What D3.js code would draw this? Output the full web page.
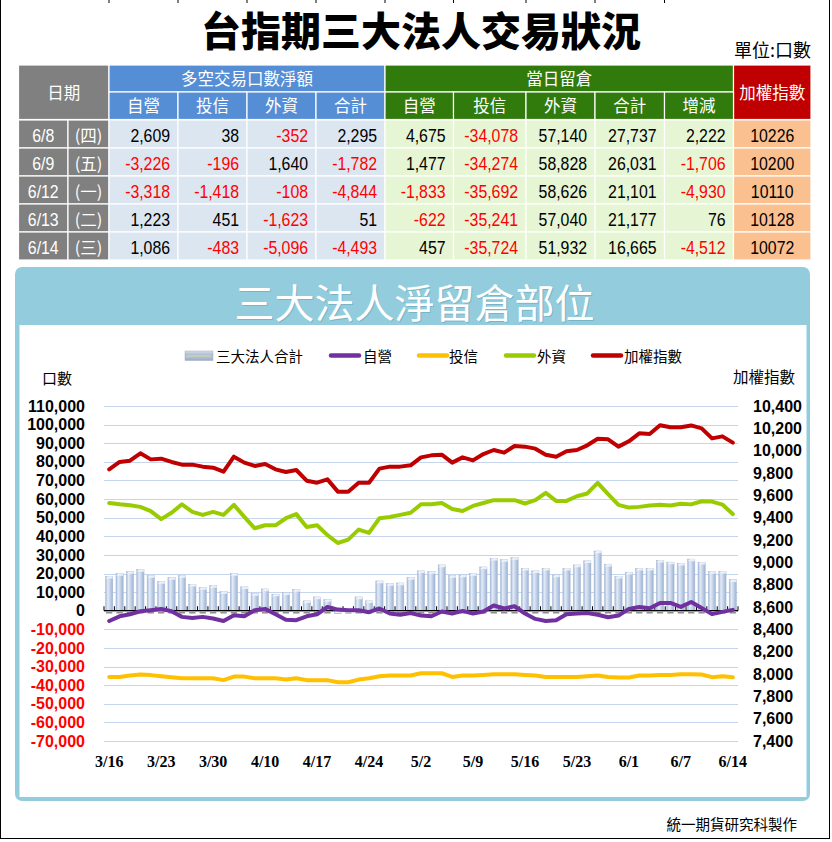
<!DOCTYPE html>
<html><head><meta charset="utf-8">
<script src="https://cdn.jsdelivr.net/npm/d3@7"></script>
<style>
html,body{margin:0;padding:0;background:#fff;}
svg{display:block;}
</style></head><body>
<svg id="c" width="832" height="842"></svg>
<script>
// ---------------- DATA ----------------
const dates = ["3/16","3/17","3/20","3/21","3/22","3/23","3/24","3/27","3/28","3/29",
  "3/30","3/31","4/5","4/6","4/7","4/10","4/11","4/12","4/13","4/14",
  "4/17","4/18","4/19","4/20","4/21","4/24","4/25","4/26","4/27","4/28",
  "5/2","5/3","5/4","5/5","5/8","5/9","5/10","5/11","5/12","5/15",
  "5/16","5/17","5/18","5/19","5/22","5/23","5/24","5/25","5/26","5/31",
  "6/1","6/2","6/3","6/5","6/6","6/7","6/8","6/9","6/12","6/13","6/14"];
const xTickIdx = [0,5,10,15,20,25,30,35,40,45,50,55,60];

// 三大法人合計 (bars, left axis)
const totalOI = [18500,20000,21000,22100,18900,15700,17800,18900,14200,12500,
  13500,10300,20000,12800,9200,11700,8900,9600,11400,5300,
  7400,6000,-1400,100,7400,5300,16000,14600,14900,17800,
  21400,21000,24600,18900,19200,20000,23500,28200,27500,28600,
  22800,21400,22800,19200,22800,24600,26800,32100,25000,18500,
  20700,22800,22800,27100,26100,25515,27737,26031,21101,21177,16665];
// 自營
const dealerOI = [-5500,-3000,-1900,-300,300,1000,-300,-3300,-3900,-3300,
  -4200,-5500,-2400,-3000,300,1000,-1900,-4800,-5100,-3000,
  -1900,2000,600,300,300,-800,1200,-1500,-2200,-1200,
  -2600,-3000,-400,-1500,-100,-1500,-400,2800,1200,2400,
  -1500,-4400,-5500,-5100,-1900,-1500,-1200,-2200,-3500,-2600,
  1000,2000,1300,4200,4200,2066,4675,1477,-1833,-622,457];
// 投信
const trustOI = [-35600,-35600,-34800,-34300,-34600,-35200,-35700,-36300,-36300,-36300,
  -36300,-37300,-35400,-35400,-36300,-36300,-36300,-37000,-36300,-37300,
  -37300,-37300,-38400,-38400,-37000,-36300,-35200,-34800,-34800,-34800,
  -33600,-33600,-33600,-35600,-34800,-34800,-34500,-34100,-34100,-34100,
  -34500,-34800,-35600,-35600,-35600,-35600,-35200,-34800,-35600,-35900,
  -35900,-34800,-34800,-34500,-34500,-34116,-34078,-34274,-35692,-35241,-35724];
// 外資
const foreignOI = [57900,57200,56700,55800,53500,49200,52600,57200,53100,51500,
  53100,51500,56900,50400,44300,45900,45900,49700,51900,45000,
  45900,40600,36400,38200,43600,41800,49700,50400,51500,52600,
  57200,57200,57900,54700,53600,56300,57900,59400,59400,59400,
  57600,59400,63300,59000,59000,61500,63000,68700,62600,56900,
  55400,55800,56500,56900,56500,57492,57140,58828,58626,57040,51932];
// 加權指數 (right axis)
const taiexSeries = [9833,9899,9910,9976,9922,9928,9899,9875,9875,9857,
  9848,9812,9946,9893,9863,9881,9833,9809,9827,9731,
  9713,9743,9633,9633,9713,9713,9839,9857,9857,9869,
  9940,9958,9964,9893,9940,9913,9970,10006,9982,10042,
  10036,10018,9964,9946,9994,10006,10048,10107,10102,10036,
  10084,10155,10149,10227,10209,10209,10226,10200,10110,10128,10072];

const leftTicks = [110000,100000,90000,80000,70000,60000,50000,40000,30000,20000,10000,0,
  -10000,-20000,-30000,-40000,-50000,-60000,-70000];
const rightTicks = [10400,10200,10000,9800,9600,9400,9200,9000,8800,8600,8400,8200,8000,7800,7600,7400];

// table
const tblDates = ["6/8","6/9","6/12","6/13","6/14"];
const tblWeekdays = ["(四)","(五)","(一)","(二)","(三)"];
const netDealer = [2609,-3226,-3318,1223,1086];
const netTrust = [38,-196,-1418,451,-483];
const netForeign = [-352,1640,-108,-1623,-5096];
const netTotal = [2295,-1782,-4844,51,-4493];
const oiDealer = [4675,1477,-1833,-622,457];
const oiTrust = [-34078,-34274,-35692,-35241,-35724];
const oiForeign = [57140,58828,58626,57040,51932];
const oiTotal = [27737,26031,21101,21177,16665];
const oiChange = [2222,-1706,-4930,76,-4512];
const tblTaiex = [10226,10200,10110,10128,10072];

const seriesNames = ["三大法人合計","自營","投信","外資","加權指數"];
const seriesColors = ["#b7c7e0","#7030A0","#FFC000","#99CC00","#C00000"];

// ---------------- DRAW ----------------
const CJK = "'Noto Sans CJK TC','Noto Sans CJK SC','Noto Sans CJK JP',sans-serif";
const SANS = "'Liberation Sans',Arial,'DejaVu Sans',sans-serif";
const SERIF = "'Liberation Serif','Times New Roman',serif";
const svg = d3.select("#c");
const locale = d3.formatLocale({decimal:".", thousands:",", grouping:[3], currency:["",""], minus:"-"});
const fmt = locale.format(",");

// outer frame
svg.append("rect").attr("x",0.5).attr("y",-2).attr("width",829).attr("height",840.5)
  .attr("fill","none").attr("stroke","#000").attr("stroke-width",1);
[109,178,247,316,385,453.5,526,595,664.5].forEach(px=>{
  svg.append("line").attr("x1",px).attr("x2",px).attr("y1",0).attr("y2",3).attr("stroke","#000");
});

// title
svg.append("text").attr("x",421).attr("y",46).attr("text-anchor","middle")
  .style("font-family",CJK).style("font-weight",900).style("font-size","40px").attr("fill","#000")
  .text("台指期三大法人交易狀況");
svg.append("text").attr("x",811).attr("y",57).attr("text-anchor","end")
  .style("font-family",CJK).style("font-size","18px").attr("fill","#000").text("單位:口數");

// ---- table ----
const colX = [18.5,68,109,178,247,316,385,453.5,526,595,664.5,733.5,811];
const hTop = 65, hMid = 92, hBot = 119.5, rowH = 28, rowTop = 120;
const gray="#808080", blue="#558ED5", green="#317B0C", red="#C00000";
const blueCell="#DCE6F1", greenCell="#E6F5D3", idxCell="#FAC090";
const tbl = svg.append("g");
function cell(x0,x1,y0,y1,fill){
  tbl.append("rect").attr("x",x0).attr("y",y0).attr("width",x1-x0).attr("height",y1-y0)
    .attr("fill",fill).attr("stroke","#fff").attr("stroke-width",1.2);
}
function htext(txt,cx,by,size){
  tbl.append("text").attr("x",cx).attr("y",by).attr("text-anchor","middle")
    .style("font-family",CJK).style("font-size",(size||16.5)+"px").attr("fill","#fff").text(txt);
}
cell(colX[0],colX[2],hTop,hBot,gray); htext("日期",(colX[0]+colX[2])/2,98.5,16.5);
cell(colX[2],colX[6],hTop,hMid,blue); htext("多空交易口數淨額",(colX[2]+colX[6])/2,84.5);
cell(colX[6],colX[11],hTop,hMid,green); htext("當日留倉",(colX[6]+colX[11])/2,84.5);
cell(colX[11],colX[12],hTop,hBot,red); htext("加權指數",(colX[11]+colX[12])/2,98.5);
const subHeads = ["自營","投信","外資","合計","自營","投信","外資","合計","增減"];
subHeads.forEach((s,k)=>{
  const x0=colX[2+k], x1=colX[3+k];
  cell(x0,x1,hMid,hBot,k<4?blue:green);
  htext(s,(x0+x1)/2,112);
});
const rowsData = [netDealer,netTrust,netForeign,netTotal,oiDealer,oiTrust,oiForeign,oiTotal,oiChange];
function ntext(v,x,by,anchor,color,wrap){
  tbl.append("text").attr("transform",`translate(${x},${by}) scale(0.88,1)`)
    .attr("text-anchor",anchor).style("font-family",SANS).style("font-size","18px")
    .attr("fill",color).text(wrap?wrap(v):v);
}
tblDates.forEach((d,r)=>{
  const y0 = rowTop + r*rowH, y1 = y0 + rowH, by = y0 + 21.5;
  cell(colX[0],colX[1],y0,y1,gray);
  ntext(d,(colX[0]+colX[1])/2,by,"middle","#fff");
  cell(colX[1],colX[2],y0,y1,gray);
  tbl.append("text").attr("x",(colX[1]+colX[2])/2).attr("y",by).attr("text-anchor","middle")
    .style("font-family",CJK).style("font-size","16.5px").attr("fill","#fff").text(tblWeekdays[r]);
  rowsData.forEach((arr,k)=>{
    const x0=colX[2+k], x1=colX[3+k];
    cell(x0,x1,y0,y1,k<4?blueCell:greenCell);
    const v = arr[r];
    ntext(v,x1-8,by,"end",v<0?"#FF0000":"#000",fmt);
  });
  cell(colX[11],colX[12],y0,y1,idxCell);
  ntext(tblTaiex[r],(colX[11]+colX[12])/2,by,"middle","#000");
});

// ---- chart panel ----
svg.append("rect").attr("x",15).attr("y",267).attr("width",795).attr("height",534).attr("rx",7)
  .attr("fill","#93CDDD");
svg.append("rect").attr("x",19.5).attr("y",325).attr("width",787).attr("height",472).attr("fill","#fff");
svg.append("text").attr("x",415.5).attr("y",319).attr("text-anchor","middle")
  .style("font-family",CJK).style("font-size","40px").attr("fill","#6aa6b8").attr("opacity",0.6)
  .text("三大法人淨留倉部位");
svg.append("text").attr("x",414.5).attr("y",318).attr("text-anchor","middle")
  .style("font-family",CJK).style("font-size","40px").attr("fill","#fff")
  .text("三大法人淨留倉部位");

const defs = svg.append("defs");
const g1 = defs.append("linearGradient").attr("id","barG").attr("x1","0").attr("x2","1").attr("y1","0").attr("y2","0");
[["0%","#9fb4d4"],["30%","#e3ebf7"],["55%","#cad8ee"],["100%","#9cb1d1"]].forEach(s=>
  g1.append("stop").attr("offset",s[0]).attr("stop-color",s[1]));
const g2 = defs.append("linearGradient").attr("id","legG").attr("x1","0").attr("x2","0").attr("y1","0").attr("y2","1");
[["0%","#d5deec"],["45%","#a9b8cf"],["55%","#b8c6dc"],["100%","#9aaac4"]].forEach(s=>
  g2.append("stop").attr("offset",s[0]).attr("stop-color",s[1]));

const PL = 104, PR = 738, PT = 406, PB = 741;
const x = d3.scaleBand().domain(d3.range(dates.length)).range([PL,PR]).paddingInner(0.3).paddingOuter(0.15);
const yL = d3.scaleLinear().domain([-70000,110000]).range([PB,PT]);
const yR = d3.scaleLinear().domain([7400,10400]).range([PB,PT]);
const bw = x.bandwidth();
const cx = i => x(i) + bw/2;

// gridlines
svg.append("g").selectAll("line").data(leftTicks).join("line")
  .attr("x1",PL).attr("x2",PR).attr("y1",d=>Math.round(yL(d))+0.5).attr("y2",d=>Math.round(yL(d))+0.5)
  .attr("stroke","#c6d5ee").attr("stroke-width",1);

// left axis
const axL = svg.append("g").attr("transform",`translate(${PL},0)`)
  .call(d3.axisLeft(yL).tickValues(leftTicks).tickFormat(fmt).tickSize(0).tickPadding(19));
axL.select(".domain").remove();
axL.selectAll("text").style("font-family",SANS).style("font-weight","bold").style("font-size","16px")
  .attr("fill",d=>d<0?"#FF0000":"#000");
// right axis
const axR = svg.append("g").attr("transform",`translate(${PR},0)`)
  .call(d3.axisRight(yR).tickValues(rightTicks).tickFormat(fmt).tickSize(0).tickPadding(15));
axR.select(".domain").remove();
axR.selectAll("text").style("font-family",SANS).style("font-weight","bold").style("font-size","16px").attr("fill","#000");
// bottom axis labels
const axB = svg.append("g").attr("transform",`translate(0,${PB})`)
  .call(d3.axisBottom(x).tickValues(xTickIdx).tickFormat(i=>dates[i]).tickSize(0).tickPadding(14.5));
axB.select(".domain").remove();
axB.selectAll("text").style("font-family",SERIF).style("font-weight","bold").style("font-size","16px").attr("fill","#000");

// axis titles
svg.append("text").attr("x",42).attr("y",384).style("font-family",CJK).style("font-size","15px").attr("fill","#000").text("口數");
svg.append("text").attr("x",795).attr("y",383).attr("text-anchor","end").style("font-family",CJK).style("font-size","15.5px").attr("fill","#000").text("加權指數");

// bars
const y0 = yL(0);
const bars = svg.append("g");
totalOI.forEach((v,i)=>{
  bars.append("rect").attr("x",x(i)+0.5).attr("width",bw-1).attr("y",y0+1.3).attr("height",1.5).attr("fill","#8f8f8f");
});
bars.selectAll("rect.b").data(totalOI).join("rect").attr("class","b")
  .attr("x",(d,i)=>x(i)).attr("width",bw)
  .attr("y",d=>Math.min(yL(d),y0)).attr("height",d=>Math.abs(yL(d)-y0))
  .attr("fill","url(#barG)").attr("stroke","#a9bbd6").attr("stroke-width",0.5);
bars.selectAll("path.cap").data(totalOI).join("path").attr("class","cap")
  .attr("d",(d,i)=>{const t=Math.min(yL(d),y0), l=x(i), r=x(i)+bw;
     return `M${l},${t+2.2}L${l+bw*0.35},${t}L${r},${t}L${r},${t+2.2}Z`;})
  .attr("fill","#eef3fb").attr("opacity",0.9);

// zero axis with ticks
svg.append("line").attr("x1",PL).attr("x2",PR).attr("y1",y0).attr("y2",y0).attr("stroke","#000").attr("stroke-width",1.3);
const step = x.step();
svg.append("g").selectAll("line").data(d3.range(dates.length+1)).join("line")
  .attr("x1",k=>PL+k*step).attr("x2",k=>PL+k*step).attr("y1",y0-4.5).attr("y2",y0)
  .attr("stroke","#000").attr("stroke-width",1);

// lines
function drawLine(arr,scale,color){
  svg.append("path").datum(arr)
    .attr("d",d3.line().x((d,i)=>cx(i)).y(d=>scale(d)))
    .attr("fill","none").attr("stroke",color).attr("stroke-width",4)
    .attr("stroke-linejoin","round").attr("stroke-linecap","round");
}
drawLine(dealerOI,yL,seriesColors[1]);
drawLine(trustOI,yL,seriesColors[2]);
drawLine(foreignOI,yL,seriesColors[3]);
drawLine(taiexSeries,yR,seriesColors[4]);

// legend
const lg = svg.append("g");
const legY = 355.5, legBase = 362;
lg.append("rect").attr("x",185).attr("y",351).attr("width",28).attr("height",9.5).attr("fill","url(#legG)").attr("stroke","#a0afc6").attr("stroke-width",0.5);
lg.append("line").attr("x1",187).attr("x2",211).attr("y1",355.8).attr("y2",355.8).attr("stroke","#c8e07a").attr("stroke-width",1.2);
const legItems = [
  {name:seriesNames[0], tx:216},
  {name:seriesNames[1], lx:[331,359], tx:363, c:seriesColors[1]},
  {name:seriesNames[2], lx:[419,447], tx:449, c:seriesColors[2]},
  {name:seriesNames[3], lx:[506,534], tx:537, c:seriesColors[3]},
  {name:seriesNames[4], lx:[593,621], tx:624, c:seriesColors[4]}
];
legItems.forEach(it=>{
  if(it.lx) lg.append("line").attr("x1",it.lx[0]).attr("x2",it.lx[1]).attr("y1",legY).attr("y2",legY)
     .attr("stroke",it.c).attr("stroke-width",4.5).attr("stroke-linecap","round");
  lg.append("text").attr("x",it.tx).attr("y",legBase).style("font-family",CJK).style("font-size","14.5px")
    .attr("fill","#000").text(it.name);
});

// footer
svg.append("text").attr("x",797).attr("y",830).attr("text-anchor","end").style("font-family",CJK)
  .style("font-size","14.5px").attr("fill","#000").text("統一期貨研究科製作");
</script>
</body></html>
